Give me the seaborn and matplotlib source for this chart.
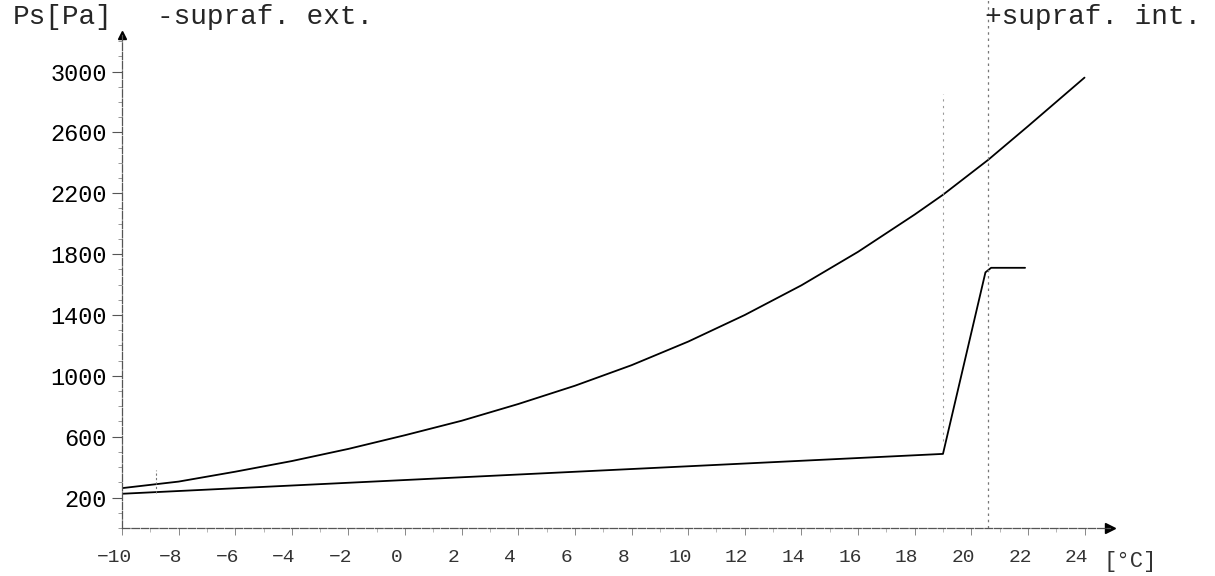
import matplotlib
matplotlib.use("Agg")
import matplotlib.pyplot as plt
import matplotlib.transforms as mtransforms
import seaborn as sns
import pandas as pd
from matplotlib.ticker import MultipleLocator, FixedLocator

# valeurs
t_sat = [-10, -8, -6, -4, -2, 0, 2, 4, 6, 8, 10, 12, 14, 16, 18, 19.0, 20.6, 22, 24.0]
p_sat = [262, 305, 370, 440, 520, 610, 705, 815, 935, 1070, 1225, 1400, 1595, 1815, 2060, 2190, 2420, 2640, 2960]

t_vap = [-10, 19.0, 20.5, 20.7, 21.9]
p_vap = [225, 487, 1680, 1710, 1710]

y_ticks = [200, 600, 1000, 1400, 1800, 2200, 2600, 3000]
x_ticks = [-10, -8, -6, -4, -2, 0, 2, 4, 6, 8, 10, 12, 14, 16, 18, 20, 22, 24]

t_ext = -8.8
t_int = 20.6
t_mid = 19.0

sat = pd.DataFrame({'t': t_sat, 'p': p_sat})
vap = pd.DataFrame({'t': t_vap, 'p': p_vap})

sns.set_style('white')
plt.rcParams['font.family'] = ['Liberation Mono', 'DejaVu Sans Mono']

fig = plt.figure(figsize=(12.15, 5.76), dpi=100)
ax = fig.add_axes([122 / 1215, 48 / 576, 988 / 1215, 493 / 576])

sns.lineplot(data=sat, x='t', y='p', ax=ax, color='black', lw=1.3, sort=False)
sns.lineplot(data=vap, x='t', y='p', ax=ax, color='black', lw=1.3, sort=False)

ax.set_xlim(-10, 24.9)
ax.set_ylim(0, 3240)

# lignes des surfaces
ax.plot([t_int, t_int], [0, 3480], color='#777777', lw=0.9, ls=(0, (2, 3)), clip_on=False)
ax.plot([t_mid, t_mid], [570, 2850], color='#999999', lw=0.8, ls=(0, (2, 4)))
ax.plot([t_ext, t_ext], [230, 380], color='#777777', lw=0.8, ls=(0, (2, 2)))

for s in ['top', 'right']:
    ax.spines[s].set_visible(False)
for s in ['left', 'bottom']:
    ax.spines[s].set_color('#555555')
    ax.spines[s].set_linewidth(0.9)
    ax.spines[s].set_linestyle((0, (6, 1.5)))

ax.plot(1, 0, marker='>', color='black', ms=7, transform=ax.transAxes, clip_on=False)
ax.plot(0, 1, marker='^', color='black', ms=6, transform=ax.transAxes, clip_on=False)

ax.yaxis.set_major_locator(FixedLocator(y_ticks))
ax.yaxis.set_minor_locator(MultipleLocator(100))
ax.xaxis.set_major_locator(FixedLocator(x_ticks))
ax.xaxis.set_minor_locator(MultipleLocator(1))
ax.tick_params(axis='y', which='major', direction='out', length=7, width=0.8,
               colors='#555555', labelcolor='black', labelsize=17, pad=4, left=True)
ax.tick_params(axis='y', which='minor', direction='out', length=3, width=0.6,
               colors='#888888', left=True)
ax.tick_params(axis='x', which='major', direction='out', length=5, width=0.7,
               colors='#888888', labelcolor='#333333', labelsize=14, pad=10, bottom=True)
ax.tick_params(axis='x', which='minor', direction='out', length=3, width=0.6,
               colors='#aaaaaa', bottom=True)
ax.set_xlabel('')
ax.set_ylabel('')

# les étiquettes de l'axe x sont un peu décalées à gauche dans l'original
shift = mtransforms.ScaledTranslation(-8 / 100, 0, fig.dpi_scale_trans)
for lab in ax.get_xticklabels():
    lab.set_transform(lab.get_transform() + shift)

fig.text(13 / 1215, 1 - 17 / 576, 'Ps[Pa]', fontsize=20, va='center', ha='left')
fig.text(157 / 1215, 1 - 17 / 576, '-supraf. ext.', fontsize=20, va='center', ha='left')
fig.text(985 / 1215, 1 - 17 / 576, '+supraf. int.', fontsize=20, va='center', ha='left')
fig.text(1103 / 1215, 1 - 562 / 576, '[°C]', fontsize=16, va='center', ha='left', color='#333333')

fig.savefig('out.png', dpi=100, facecolor='white')
